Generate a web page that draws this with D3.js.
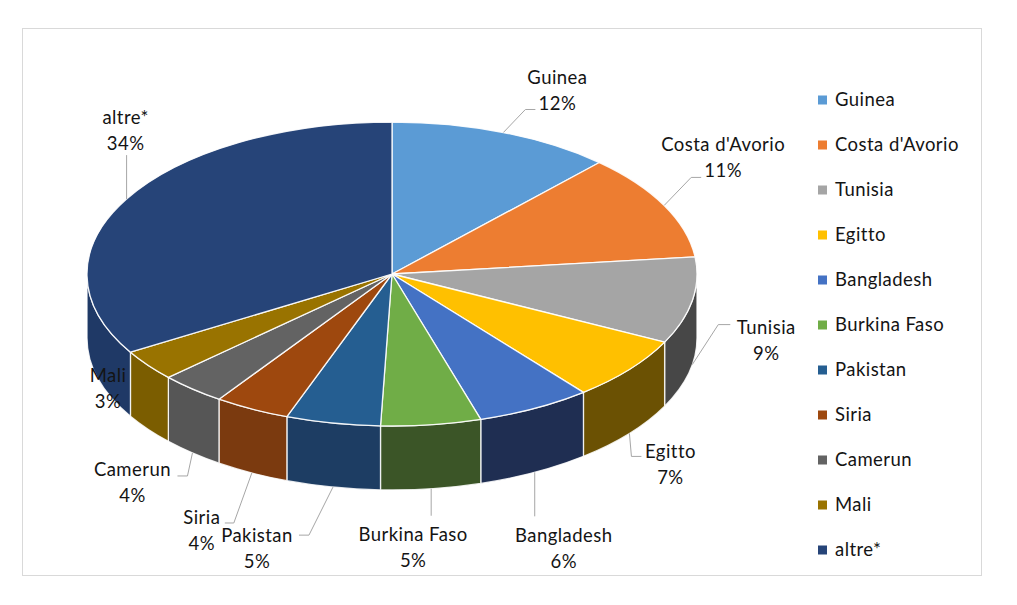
<!DOCTYPE html>
<html>
<head>
<meta charset="utf-8">
<script src="https://cdn.jsdelivr.net/npm/d3@7"></script>
<style>
  html, body { margin: 0; padding: 0; background: #fff; }
  svg { display: block; }
  text { font-family: Lato, "Open Sans", sans-serif; fill: #141414; letter-spacing: 0.45px; }
</style>
</head>
<body>
<svg id="chart" width="1017" height="605"></svg>
<script>
// ---- data ----
const categories = ["Guinea", "Costa d'Avorio", "Tunisia", "Egitto", "Bangladesh", "Burkina Faso", "Pakistan", "Siria", "Camerun", "Mali", "altre*"];
const values = [11.9, 11.3, 9.2, 6.8, 6.1, 5.3, 5.0, 4.0, 3.5, 3.3, 33.6];

// ---- styles ----
const topColors  = ["#5B9BD5", "#ED7D31", "#A5A5A5", "#FFC000", "#4472C4", "#70AD47", "#255E91", "#9E480E", "#636363", "#997300", "#264478"];
const sideColors = ["#36608a", "#8f4a1b", "#474747", "#6b5103", "#1f2e52", "#3b5527", "#1d3d63", "#7b3a0f", "#565656", "#7b5d00", "#1f3966"];
// label block offset from leader anchor [dx, dy], leader end offset from label centre [sx, sy], elbow length
const labelLayout = [
  [54, -42, -22, 19, 10],
  [59, -47.5, -22, 19.5, 10],
  [74, -24, -36, -16, 12],
  [41, 31, -29, -8, 10],
  [29, 76, -29, -32, 0],
  [-18, 59, 18, -32, 0],
  [-76, 61, 42, -13, -10],
  [-50, 58, 23, -8, -9],
  [-60, 30, 45, -7, -10],
  [-40, -41, null, null, 0],
  [-1, -69, 1, 25, 0]
];

const svg = d3.select("#chart");

// frame
svg.append("rect").attr("x", 22.5).attr("y", 28.5).attr("width", 959).attr("height", 547)
  .attr("fill", "#fff").attr("stroke", "#d9d9d9").attr("stroke-width", 1);

const cx = 392, cy = 274, rx = 305, ry = 152, depth = 64;
const color = d3.scaleOrdinal().domain(categories).range(topColors);
const sideColor = d3.scaleOrdinal().domain(categories).range(sideColors);
const total = d3.sum(values);

const data = categories.map((c, i) => ({ name: c, value: values[i], i }));
const arcs = d3.pie().sort(null).value(d => d.value)(data);

const P = (a, dy = 0) => [cx + rx * Math.sin(a), cy - ry * Math.cos(a) + dy];
const fmt = p => p[0].toFixed(2) + "," + p[1].toFixed(2);

function topPath(a0, a1) {
  const large = (a1 - a0) > Math.PI ? 1 : 0;
  return `M${cx},${cy}L${fmt(P(a0))}A${rx},${ry} 0 ${large} 1 ${fmt(P(a1))}Z`;
}
function wallPath(a0, a1) {
  const b0 = Math.max(a0, Math.PI / 2), b1 = Math.min(a1, 3 * Math.PI / 2);
  if (b1 <= b0) return null;
  return `M${fmt(P(b0))}A${rx},${ry} 0 0 1 ${fmt(P(b1))}L${fmt(P(b1, depth))}A${rx},${ry} 0 0 0 ${fmt(P(b0, depth))}Z`;
}

const g = svg.append("g");
// walls
g.selectAll("path.wall").data(arcs.filter(a => wallPath(a.startAngle, a.endAngle)))
  .enter().append("path").attr("class", "wall")
  .attr("d", a => wallPath(a.startAngle, a.endAngle))
  .attr("fill", a => sideColor(a.data.name))
  .attr("stroke", "#ffffff").attr("stroke-opacity", 0.85).attr("stroke-width", 1.3).attr("stroke-linejoin", "round");
// tops
g.selectAll("path.top").data(arcs).enter().append("path").attr("class", "top")
  .attr("d", a => topPath(a.startAngle, a.endAngle))
  .attr("fill", a => color(a.data.name))
  .attr("stroke", "#ffffff").attr("stroke-opacity", 0.9).attr("stroke-width", 1.3).attr("stroke-linejoin", "round");

// labels
const lg = svg.append("g");
arcs.forEach((a, i) => {
  const mid = (a.startAngle + a.endAngle) / 2;
  const front = Math.cos(mid) < 0;
  const anchor = P(mid, front ? depth : 0);
  const [dx, dy, sx, sy, el] = labelLayout[i];
  const lx = anchor[0] + dx, ly = anchor[1] + dy;
  if (sx !== null) {
    const end = [lx + sx, ly + sy];
    const elbow = [end[0] - el, end[1]];
    lg.append("path").attr("d", d3.line()([anchor, elbow, end]))
      .attr("fill", "none").attr("stroke", "#a6a6a6").attr("stroke-width", 1);
  }
  const t = lg.append("text").attr("text-anchor", "middle").style("font-size", "18.5px");
  t.append("tspan").attr("x", lx).attr("y", ly - 13).attr("dy", "0.35em").text(a.data.name);
  t.append("tspan").attr("x", lx).attr("y", ly + 13).attr("dy", "0.35em")
    .text(Math.round(a.data.value / total * 100) + "%");
});

// legend
const legY = d3.scalePoint().domain(categories).range([100, 550]);
const leg = svg.append("g");
categories.forEach(c => {
  leg.append("rect").attr("x", 818).attr("y", legY(c) - 4.5).attr("width", 9).attr("height", 9).attr("fill", color(c));
  leg.append("text").attr("x", 835).attr("y", legY(c)).attr("dy", "0.35em").style("font-size", "18.5px").text(c);
});
</script>
</body>
</html>
